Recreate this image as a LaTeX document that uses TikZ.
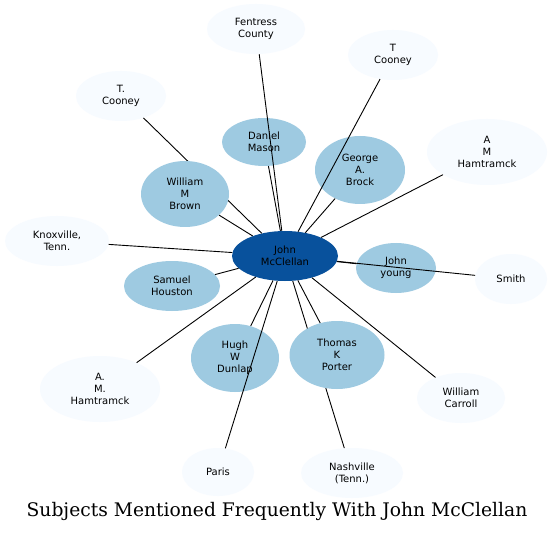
\documentclass[tikz,border=0pt]{standalone}
\usepackage{fontspec}
\setmainfont{DejaVu Sans}
\newfontfamily\titlefont{DejaVu Serif}
\usetikzlibrary{shapes.geometric}
\definecolor{bluedark}{HTML}{08519C}
\definecolor{bluemid}{HTML}{9ECAE1}
\definecolor{bluepale}{HTML}{F7FBFF}
\tikzset{
  subj/.style={ellipse, inner sep=0pt, align=center, font=\fontsize{10}{12}\selectfont},
  hub/.style={subj, fill=bluedark},
  near/.style={subj, fill=bluemid},
  far/.style={subj, fill=bluepale},
  link/.style={draw=black, line width=0.9pt}
}
\begin{document}
\begin{tikzpicture}[x=1pt, y=-1pt]
    \fill[white] (0,0) rectangle (553,534);
    \useasboundingbox (0,0) rectangle (553,534);
    % John McClellan en el centro, los temas cercanos en azul medio
    \node[hub, minimum width=106, minimum height=50] (jm) at (285,256) {John\\McClellan};
    \node[near, minimum width=84, minimum height=48] (dmason) at (264,142) {Daniel\\Mason};
    \node[near, minimum width=90, minimum height=68] (gbrock) at (360,170) {George\\A.\\Brock};
    \node[near, minimum width=96, minimum height=50] (shouston) at (172,286) {Samuel\\Houston};
    \node[near, minimum width=88, minimum height=68] (hdunlap) at (235,358) {Hugh\\W\\Dunlap};
    \node[near, minimum width=80, minimum height=50] (jyoung) at (396,268) {John\\young};
    \node[far, minimum width=98, minimum height=50] (fentress) at (256,29) {Fentress\\County};
    \node[far, minimum width=90, minimum height=50] (tcooney) at (393,55) {T\\Cooney};
    \node[far, minimum width=90, minimum height=50] (tcooneyb) at (121,96) {T.\\Cooney};
    \node[far, minimum width=120, minimum height=66] (amhamtramck) at (487,152) {A\\M\\Hamtramck};
    \node[far, minimum width=104, minimum height=50] (knoxville) at (57,241) {Knoxville,\\Tenn.};
    \node[far, minimum width=72, minimum height=50] (smith) at (511,279) {Smith};
    \node[far, minimum width=120, minimum height=66] (amhamtramckb) at (100,389) {A.\\M.\\Hamtramck};
    \node[far, minimum width=88, minimum height=50] (wcarroll) at (461,398) {William\\Carroll};
    \node[far, minimum width=72, minimum height=48] (paris) at (218,472) {Paris};
    \node[far, minimum width=102, minimum height=50] (nashville) at (352,473) {Nashville\\(Tenn.)};
    \foreach \s in {dmason, gbrock, shouston, hdunlap, jyoung, fentress, tcooney, tcooneyb, amhamtramck, knoxville, smith, amhamtramckb, wcarroll, paris, nashville}
        \draw[link] (jm) -- (\s);
    % estos dos tapan las lineas que pasan por debajo
    \node[near, minimum width=88, minimum height=66] (wbrown) at (185,194) {William\\M\\Brown};
    \node[near, minimum width=95, minimum height=68] (tporter) at (337,355) {Thomas\\K\\Porter};
    \draw[link] (jm) -- (wbrown);
    \draw[link] (jm) -- (tporter);
    \node[font=\titlefont\fontsize{18.7}{22}\selectfont] (title) at (277,511) {Subjects Mentioned Frequently With John McClellan};
\end{tikzpicture}
\end{document}
